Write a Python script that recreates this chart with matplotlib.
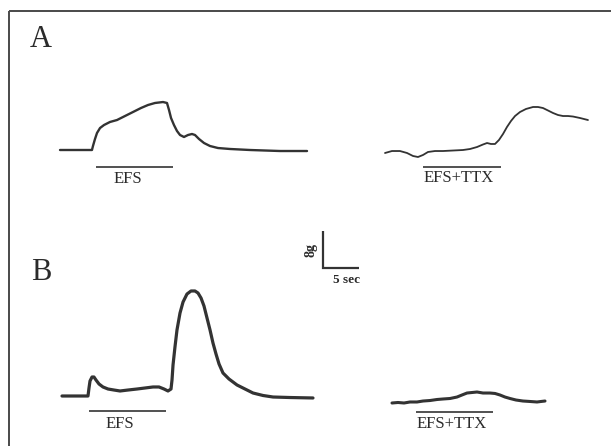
import numpy as np
import matplotlib
matplotlib.use("Agg")
import matplotlib.pyplot as plt

plt.rcParams['font.family'] = ['Liberation Serif', 'DejaVu Serif']

# scale of the recording (from the calibration bar)
bar_sec = 5.0
bar_g = 8.0

# A, control: time (s) and tension (g) relative to baseline
a_ctrl_t = [0, 4.44, 4.58, 4.86, 5.14, 5.56, 6.11, 6.94, 7.92, 9.03, 10.14, 11.25, 12.22,
            13.19, 14.31, 14.86, 15.14, 15.42, 15.83, 16.25, 16.67, 17.22, 17.78, 18.33,
            18.75, 19.31, 20.00, 20.83, 21.94, 23.61, 26.39, 30.56, 34.31]
a_ctrl_g = [0, 0, 0.87, 2.39, 3.70, 4.78, 5.43, 6.09, 6.52, 7.39, 8.26, 9.13, 9.78,
            10.22, 10.43, 10.22, 8.70, 6.96, 5.43, 4.13, 3.26, 2.83, 3.26, 3.48,
            3.26, 2.39, 1.52, 0.87, 0.43, 0.22, 0, -0.22, -0.22]

# A, with TTX
a_ttx_t = [0, 0.97, 2.08, 3.06, 3.89, 4.58, 5.28, 5.97, 6.94, 8.06, 9.44, 10.83, 11.81,
           12.78, 13.61, 14.17, 14.72, 15.28, 15.83, 16.39, 16.94, 17.50, 18.06, 18.75,
           19.58, 20.56, 21.25, 21.94, 22.64, 23.33, 24.03, 24.72, 25.42, 26.11, 27.08, 28.19]
a_ttx_g = [0, 0.43, 0.43, 0, -0.65, -0.87, -0.43, 0.22, 0.43, 0.43, 0.54, 0.65, 0.87,
           1.30, 1.85, 2.17, 1.96, 1.96, 2.83, 4.13, 5.65, 6.96, 8.04, 8.91,
           9.57, 10.00, 10.00, 9.78, 9.24, 8.70, 8.26, 8.04, 8.04, 7.93, 7.61, 7.17]

# B, control
b_ctrl_t = [0, 3.61, 3.75, 3.89, 4.17, 4.44, 4.72, 5.14, 5.69, 6.39, 7.22, 8.06, 9.17,
            10.42, 11.53, 12.64, 13.47, 14.17, 14.72, 15.14, 15.28, 15.42, 15.69, 15.97,
            16.39, 16.81, 17.36, 17.92, 18.47, 18.89, 19.31, 19.72, 20.14, 20.56, 20.97,
            21.39, 21.81, 22.36, 23.19, 24.31, 25.42, 26.53, 27.92, 29.31, 31.67, 34.86]
b_ctrl_g = [0, 0, 1.74, 3.26, 4.13, 4.13, 3.48, 2.61, 1.96, 1.52, 1.30, 1.09, 1.30,
            1.52, 1.74, 1.96, 1.96, 1.52, 1.09, 1.52, 3.48, 6.74, 10.65, 14.35,
            18.04, 20.43, 22.17, 22.83, 22.83, 22.39, 21.30, 19.57, 16.96, 14.35, 11.52,
            9.13, 6.96, 5.00, 3.70, 2.39, 1.52, 0.65, 0.11, -0.22, -0.33, -0.43]

# B, with TTX
b_ttx_t = [0, 0.83, 1.67, 2.50, 3.47, 4.31, 5.28, 6.25, 7.08, 8.06, 9.03, 9.72, 10.42,
           11.11, 11.81, 12.64, 13.61, 14.31, 15.00, 15.69, 16.39, 17.22, 18.19, 19.17,
           20.14, 20.69, 21.25]
b_ttx_g = [0, 0.11, 0, 0.22, 0.22, 0.43, 0.54, 0.76, 0.87, 0.98, 1.30, 1.74, 2.17,
           2.28, 2.39, 2.17, 2.17, 2.07, 1.74, 1.30, 0.98, 0.65, 0.43, 0.33,
           0.22, 0.33, 0.43]

# stimulation periods (start, duration in s, relative to trace start)
stim = {"a_ctrl": (5.0, 10.7), "a_ttx": (5.28, 10.83),
        "b_ctrl": (3.75, 10.7), "b_ttx": (3.33, 10.7)}
stim_labels = {"a_ctrl": "EFS", "a_ttx": "EFS+TTX", "b_ctrl": "EFS", "b_ttx": "EFS+TTX"}

W, H = 611, 446
PX_S = 7.2   # pixels per second
PX_G = 4.6   # pixels per gram


def px(x, y):
    return x / PX_S, (H - y) / PX_G


fig = plt.figure(figsize=(W / 100, H / 100), dpi=100)
ax = fig.add_axes([0, 0, 1, 1])
ax.set_xlim(0, W / PX_S)
ax.set_ylim(0, H / PX_G)
ax.axis('off')

ink = '#333333'
txt = '#2b2b2b'

# frame (top and left edges only)
x0, y0 = px(9, 10.5)
x1, _ = px(611, 10.5)
_, yb = px(9, 446)
ax.plot([x0, x1], [y0, y0], color='#4a4a4a', lw=1.4, solid_capstyle='butt')
ax.plot([x0, x0], [y0, yb], color='#4a4a4a', lw=1.4, solid_capstyle='butt')

traces = [
    ("a_ctrl", a_ctrl_t, a_ctrl_g, (60, 150), 1.7, (167, (128, 179))),
    ("a_ttx", a_ttx_t, a_ttx_g, (385, 153), 1.3, (167, (459, 178.5))),
    ("b_ctrl", b_ctrl_t, b_ctrl_g, (62, 396), 2.3, (411, (119.5, 424))),
    ("b_ttx", b_ttx_t, b_ttx_g, (392, 403), 2.2, (412, (452, 423.5))),
]

for key, t, g, origin, lw, (bar_y, lab_xy) in traces:
    ox, oy = px(*origin)
    ax.plot(ox + np.array(t), oy + np.array(g), color=ink, lw=lw,
            solid_joinstyle='round', solid_capstyle='round')
    s0, dur = stim[key]
    _, by = px(0, bar_y)
    ax.plot([ox + s0, ox + s0 + dur], [by, by], color=ink, lw=1.2, solid_capstyle='butt')
    lx, ly = px(*lab_xy)
    ax.text(lx, ly, stim_labels[key], fontsize=12, color=txt,
            ha='center', va='center')

# panel letters
ax.text(*px(41, 40), "A", fontsize=22, color=txt, ha='center', va='center')
ax.text(*px(41, 273), "B", fontsize=22, color=txt, ha='center', va='center')

# calibration bar
cx, cy = px(323, 268)
ax.plot([cx, cx, cx + bar_sec], [cy + bar_g, cy, cy], color=ink, lw=1.6,
        solid_joinstyle='miter', solid_capstyle='butt')
ax.text(*px(347, 280), "5 sec", fontsize=9.5, fontweight='bold', color=txt,
        ha='center', va='center')
ax.text(*px(311.5, 250), "8g", fontsize=10, fontweight='bold', color=txt,
        ha='center', va='center', rotation=90)

fig.savefig("out.png", dpi=100)
